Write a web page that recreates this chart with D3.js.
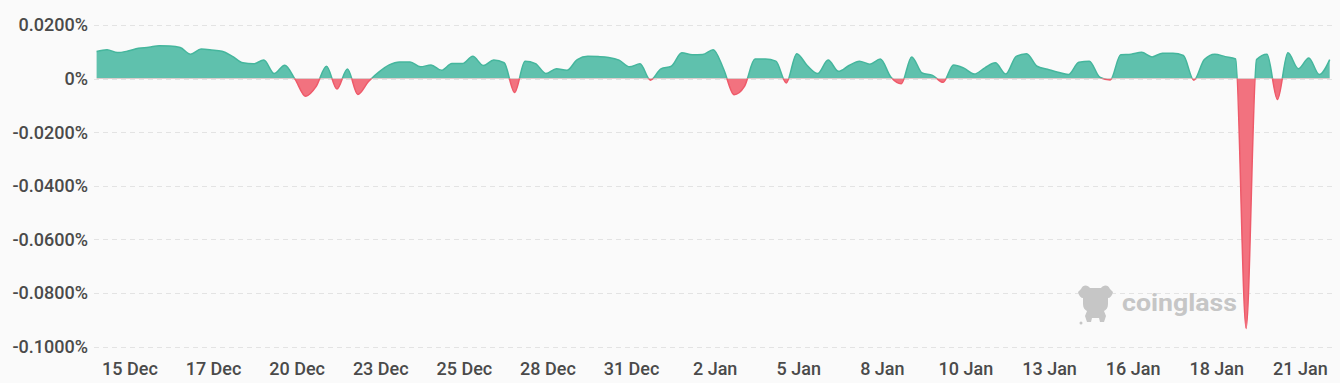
<!DOCTYPE html>
<html lang="en">
  <head>
    <meta charset="UTF-8" />
    <title>Funding Rate</title>
    <style>
      html, body { margin: 0; padding: 0; background: #fafafa; }
      svg { display: block; font-family: Roboto, sans-serif; }
      .tick-label { font-size: 18px; fill: #4a4a4a; font-weight: 500; }
    </style>
  </head>
  <body>
    <svg width="1340" height="383"></svg>
    <script src="https://cdn.jsdelivr.net/npm/d3@7"></script>
    <script>
      // funding rate in %, one value every 8 hours, starting 14 Dec 00:00
      const rates = [
        0.0101, 0.0108, 0.0097, 0.0103, 0.0113, 0.0117, 0.0123, 0.0122, 0.0116, 0.0091,
        0.0110, 0.0107, 0.0102, 0.0083, 0.0059, 0.0055, 0.0069, 0.0019, 0.0050, -0.0003,
        -0.0066, -0.0030, 0.0046, -0.0039, 0.0036, -0.0059, -0.0012, 0.0024, 0.0051, 0.0062,
        0.0062, 0.0044, 0.0051, 0.0031, 0.0056, 0.0056, 0.0083, 0.0049, 0.0069, 0.0059,
        -0.0052, 0.0065, 0.0056, 0.0019, 0.0037, 0.0031, 0.0071, 0.0083, 0.0082, 0.0079,
        0.0069, 0.0044, 0.0055, -0.0006, 0.0036, 0.0046, 0.0096, 0.0089, 0.0090, 0.0108,
        0.0036, -0.0060, -0.0029, 0.0073, 0.0073, 0.0065, -0.0016, 0.0093, 0.0049, 0.0019,
        0.0069, 0.0027, 0.0049, 0.0065, 0.0054, 0.0073, 0.0006, -0.0019, 0.0081, 0.0021,
        0.0012, -0.0014, 0.0051, 0.0039, 0.0017, 0.0040, 0.0059, 0.0017, 0.0083, 0.0093,
        0.0046, 0.0035, 0.0024, 0.0015, 0.0061, 0.0065, 0.0005, -0.0005, 0.0089, 0.0091,
        0.0098, 0.0081, 0.0095, 0.0095, 0.0086, -0.0006, 0.0071, 0.0091, 0.0082, 0.0073,
        -0.0932, 0.0071, 0.0091, -0.0078, 0.0096, 0.0037, 0.0077, 0.0015, 0.0071
      ];

      const xLabels = ['15 Dec', '17 Dec', '20 Dec', '23 Dec', '25 Dec', '28 Dec', '31 Dec',
        '2 Jan', '5 Jan', '8 Jan', '10 Jan', '13 Jan', '16 Jan', '18 Jan', '21 Jan'];
      const xLabelIndex = [3, 11, 19, 27, 35, 43, 51, 59, 67, 75, 83, 91, 99, 107, 115];

      const yTicks = [0.02, 0, -0.02, -0.04, -0.06, -0.08, -0.1];

      const svg = d3.select('svg'),
        width = +svg.attr('width'),
        height = +svg.attr('height');

      const plotLeft = 94, plotRight = 1332;

      const x = d3.scalePoint()
        .domain(d3.range(rates.length))
        .range([96.6, 1329.7]);

      const y = d3.scaleLinear()
        .domain([-0.1, 0.02])
        .range([346.6, 25]);

      const green = '#5fc1ad', greenLine = '#45b69d';
      const red = '#f2727f', redLine = '#ee5a6a';

      svg.append('rect').attr('width', width).attr('height', height).attr('fill', '#fafafa');

      // grid
      svg.append('g')
        .selectAll('line')
        .data(yTicks)
        .join('line')
        .attr('x1', plotLeft)
        .attr('x2', plotRight)
        .attr('y1', (d) => Math.round(y(d)) + 0.5)
        .attr('y2', (d) => Math.round(y(d)) + 0.5)
        .attr('stroke', '#e3e3e3')
        .attr('stroke-dasharray', '5,4');

      // y labels
      svg.append('g')
        .selectAll('text')
        .data(yTicks)
        .join('text')
        .attr('class', 'tick-label')
        .attr('x', 88)
        .attr('y', (d) => y(d))
        .attr('dy', '0.35em')
        .attr('text-anchor', 'end')
        .text((d) => (d === 0 ? '0%' : d3.format('.4f')(d).replace('−', '-') + '%'));

      // x labels
      svg.append('g')
        .selectAll('text')
        .data(xLabels)
        .join('text')
        .attr('class', 'tick-label')
        .attr('x', (d, i) => x(xLabelIndex[i]) + 2)
        .attr('y', 374.5)
        .attr('text-anchor', 'middle')
        .text((d) => d);

      // watermark
      const wm = svg.append('g').attr('fill', '#c6c6c6');
      wm.append('path')
        .attr('d', 'M1081,289 C1083,284 1088,285 1090,288 L1101,288 C1103,285 1108,284 1110,289 ' +
          'L1113,292 C1112,296 1110,298 1108,298 L1108,304 C1108,308 1106,310 1104,311 ' +
          'L1106,316 L1104,322 L1100,322 L1099,318 L1092,318 L1091,322 L1087,322 L1085,316 ' +
          'L1087,311 C1085,310 1083,308 1083,304 L1083,298 C1081,298 1079,296 1078,292 Z');
      wm.append('circle').attr('cx', 1081).attr('cy', 323).attr('r', 1.5);
      wm.append('text')
        .attr('x', 1122)
        .attr('y', 311)
        .attr('font-size', 23)
        .attr('font-weight', 'bold')
        .attr('textLength', 115)
        .attr('lengthAdjust', 'spacingAndGlyphs')
        .text('coinglass');

      const zeroY = y(0);
      const defs = svg.append('defs');
      defs.append('clipPath').attr('id', 'clip-pos')
        .append('rect').attr('x', 0).attr('y', 0).attr('width', width).attr('height', zeroY);
      defs.append('clipPath').attr('id', 'clip-neg')
        .append('rect').attr('x', 0).attr('y', zeroY).attr('width', width).attr('height', height - zeroY);

      const area = d3.area()
        .x((d, i) => x(i))
        .y0(zeroY)
        .y1((d) => y(d))
        .curve(d3.curveMonotoneX);

      const line = d3.line()
        .x((d, i) => x(i))
        .y((d) => y(d))
        .curve(d3.curveMonotoneX);

      const pos = svg.append('g').attr('clip-path', 'url(#clip-pos)');
      pos.append('path').attr('d', area(rates)).attr('fill', green);
      pos.append('path').attr('d', line(rates)).attr('fill', 'none')
        .attr('stroke', greenLine).attr('stroke-width', 1.5);

      const neg = svg.append('g').attr('clip-path', 'url(#clip-neg)');
      neg.append('path').attr('d', area(rates)).attr('fill', red);
      neg.append('path').attr('d', line(rates)).attr('fill', 'none')
        .attr('stroke', redLine).attr('stroke-width', 1.5);
    </script>
  </body>
</html>
